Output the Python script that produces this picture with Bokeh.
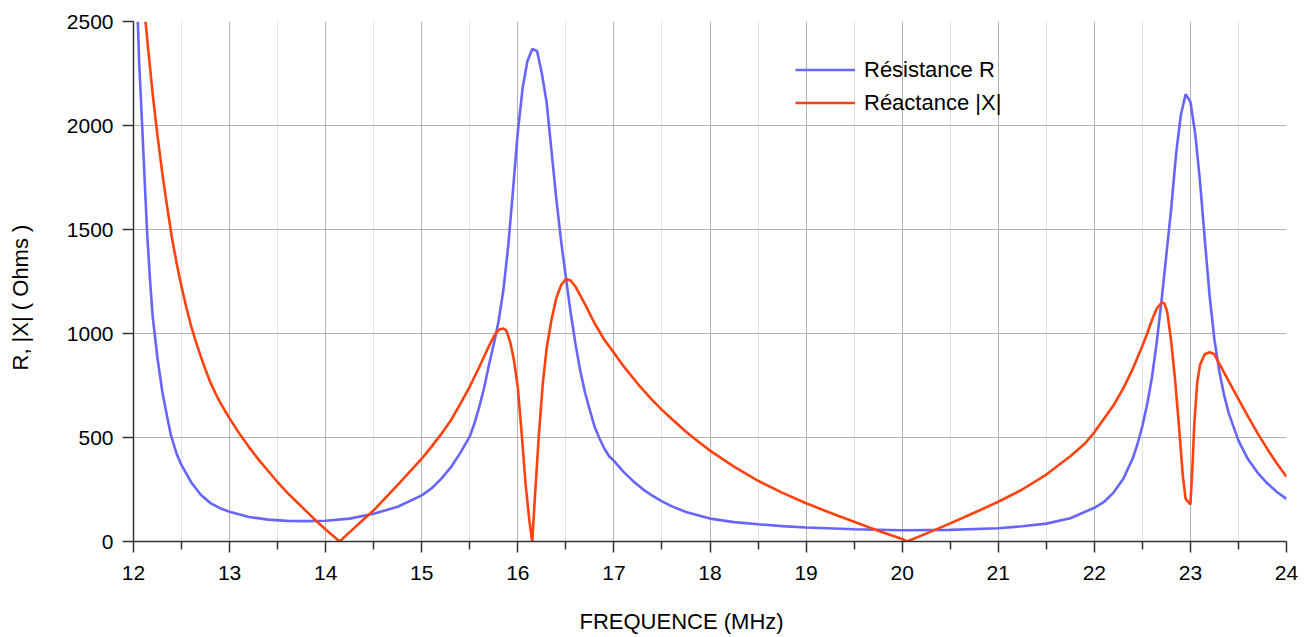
from bokeh.plotting import figure
from bokeh.models import Range1d, FixedTicker, Legend, LegendItem, Title
from bokeh.embed import file_html
from bokeh.resources import INLINE

# Resistance R (Ohms) vs frequency (MHz)
freq_r = [12.045, 12.06, 12.08, 12.1, 12.12, 12.14, 12.17, 12.2, 12.22, 12.25,
          12.3, 12.35, 12.39, 12.45, 12.5, 12.6, 12.7, 12.8, 12.9, 13.0,
          13.2, 13.4, 13.6, 13.8, 14.0, 14.25, 14.5, 14.75, 15.0, 15.1,
          15.2, 15.3, 15.4, 15.5, 15.55, 15.6, 15.65, 15.7, 15.75, 15.8,
          15.85, 15.9, 15.95, 16.0, 16.05, 16.1, 16.15, 16.2, 16.25, 16.3,
          16.35, 16.4, 16.45, 16.5, 16.55, 16.6, 16.65, 16.7, 16.75, 16.8,
          16.85, 16.9, 16.95, 17.0, 17.1, 17.2, 17.3, 17.4, 17.5, 17.6,
          17.75, 18.0, 18.25, 18.5, 18.75, 19.0, 19.5, 20.0, 20.5, 21.0,
          21.25, 21.5, 21.75, 22.0, 22.1, 22.2, 22.3, 22.4, 22.45, 22.5,
          22.55, 22.6, 22.65, 22.7, 22.75, 22.8, 22.85, 22.9, 22.95, 23.0,
          23.05, 23.1, 23.15, 23.2, 23.25, 23.3, 23.35, 23.4, 23.5, 23.6,
          23.7, 23.8, 23.9, 24.0]
resistance = [2500, 2290, 2100, 1900, 1700, 1500, 1270, 1080, 1000, 880,
              720, 600, 510, 420, 367, 285, 225, 185, 160, 143,
              118, 105, 99, 98, 100, 110, 133, 167, 222, 255,
              300, 355, 425, 505, 570, 650, 740, 850, 950, 1060,
              1210, 1420, 1690, 1970, 2180, 2310, 2368, 2358, 2250, 2110,
              1880, 1650, 1445, 1270, 1100, 950, 820, 715, 630, 550,
              495, 447, 410, 388, 335, 290, 252, 220, 193, 170,
              142, 110, 93, 83, 74, 67, 59, 54, 56, 64,
              73, 86, 112, 162, 190, 235, 300, 400, 470, 555,
              660, 790, 960, 1160, 1380, 1600, 1860, 2050, 2150, 2114,
              1960, 1730, 1450, 1180, 970, 820, 705, 615, 485, 395,
              330, 280, 238, 205]

# Reactance |X| (Ohms) vs frequency (MHz)
freq_x = [12.125, 12.15, 12.2, 12.25, 12.3, 12.35, 12.4, 12.45, 12.5, 12.55,
          12.6, 12.65, 12.7, 12.75, 12.8, 12.85, 12.9, 12.95, 13.0, 13.1,
          13.2, 13.3, 13.4, 13.5, 13.6, 13.7, 13.8, 13.9, 14.0, 14.1,
          14.146, 14.25, 14.5, 14.75, 15.0, 15.1, 15.2, 15.3, 15.4, 15.5,
          15.6, 15.7, 15.75, 15.8, 15.85, 15.88, 15.92, 15.96, 16.0, 16.04,
          16.08, 16.12, 16.15, 16.18, 16.22, 16.26, 16.3, 16.35, 16.4, 16.45,
          16.5, 16.55, 16.6, 16.7, 16.8, 16.9, 17.0, 17.1, 17.25, 17.4,
          17.5, 17.6, 17.75, 17.9, 18.0, 18.25, 18.5, 18.75, 19.0, 19.25,
          19.5, 19.75, 20.0, 20.05, 20.25, 20.5, 20.75, 21.0, 21.25, 21.5,
          21.75, 21.9, 22.0, 22.1, 22.2, 22.3, 22.4, 22.5, 22.55, 22.6,
          22.65, 22.7, 22.73, 22.76, 22.8, 22.84, 22.88, 22.92, 22.95, 23.0,
          23.02, 23.04, 23.07, 23.1, 23.15, 23.2, 23.25, 23.3, 23.4, 23.5,
          23.6, 23.7, 23.8, 23.9, 24.0]
reactance = [2500, 2380, 2150, 1950, 1770, 1610, 1460, 1335, 1225, 1125,
             1035, 960, 890, 825, 765, 715, 670, 630, 592, 520,
             455, 395, 340, 285, 235, 190, 145, 100, 58, 18,
             0, 45, 150, 272, 398, 455, 515, 580, 660, 745,
             840, 940, 985, 1018, 1024, 1015, 960, 870, 740, 520,
             280, 100, 0, 230, 520, 760, 930, 1065, 1170, 1232,
             1262, 1255, 1225, 1140, 1048, 970, 907, 843, 757, 680,
             633, 590, 528, 472, 437, 360, 292, 235, 184, 138,
             95, 52, 12, 0, 38, 87, 138, 191, 250, 322,
             410, 470, 525, 590, 655, 735, 830, 940, 1000, 1065,
             1120, 1148, 1145, 1100, 960, 780, 560, 320, 205, 178,
             350, 560, 760, 850, 900, 910, 900, 855, 770, 685,
             600, 520, 445, 375, 311]

x_ticks = list(range(12, 25))
y_ticks = [0, 500, 1000, 1500, 2000, 2500]

x_title = "FREQUENCE (MHz)"
y_title = "R, |X| ( Ohms )"

FONT = "Liberation Sans"

p = figure(frame_width=1153, frame_height=520,
           x_range=Range1d(12, 24), y_range=Range1d(0, 2500),
           output_backend="svg", toolbar_location=None,
           min_border_left=133, min_border_right=19,
           min_border_top=21, min_border_bottom=95)
p.outline_line_color = None
p.background_fill_color = "white"

p.xaxis.ticker = FixedTicker(ticks=x_ticks, minor_ticks=[t + 0.5 for t in x_ticks[:-1]])
p.yaxis.ticker = FixedTicker(ticks=y_ticks, minor_ticks=[])

for ax in (p.xaxis, p.yaxis):
    ax.axis_line_color = "#333333"
    ax.axis_line_width = 1.5
    ax.major_tick_line_color = "#333333"
    ax.major_tick_line_width = 1.5
    ax.minor_tick_line_color = "#333333"
    ax.minor_tick_line_width = 1.5
    ax.major_tick_in = 0
    ax.major_tick_out = 11
    ax.minor_tick_in = 0
    ax.minor_tick_out = 8
    ax.major_label_text_font = FONT
    ax.major_label_text_font_size = "21px"
    ax.major_label_text_color = "black"

p.xaxis.major_label_standoff = 13
p.yaxis.major_label_standoff = 9

p.xgrid.grid_line_color = "#b3b3b3"
p.xgrid.minor_grid_line_color = "#e3e3e3"
p.ygrid.grid_line_color = "#b3b3b3"
p.xgrid.grid_line_width = 1
p.ygrid.grid_line_width = 1

r1 = p.line(freq_r, resistance, line_color="#6666ff", line_width=2.6)
r2 = p.line(freq_x, reactance, line_color="#ff420e", line_width=2.6)

legend = Legend(items=[LegendItem(label="Résistance R", renderers=[r1]),
                       LegendItem(label="Réactance |X|", renderers=[r2])],
                location=(662, 422), padding=0, margin=0, spacing=0,
                glyph_width=60, glyph_height=33, label_standoff=9,
                label_text_font=FONT, label_text_font_size="22px",
                label_text_color="black",
                border_line_color=None, background_fill_alpha=0)
p.add_layout(legend, "center")

# axis titles as Title annotations (x title sits left of centre, y title below centre);
# an empty line is used as spacing between the title and the axis
xt = Title(text="\n" + x_title, align="left", offset=446, vertical_align="middle",
           standoff=0, text_font=FONT, text_font_size="22px",
           text_font_style="normal", text_color="black")
yt = Title(text=y_title + "\n", align="left", offset=171, vertical_align="middle",
           standoff=9, text_font=FONT, text_font_size="22px",
           text_font_style="normal", text_color="black")
p.add_layout(xt, "below")
p.add_layout(yt, "left")

open("out.html", "w").write(file_html(p, INLINE))
